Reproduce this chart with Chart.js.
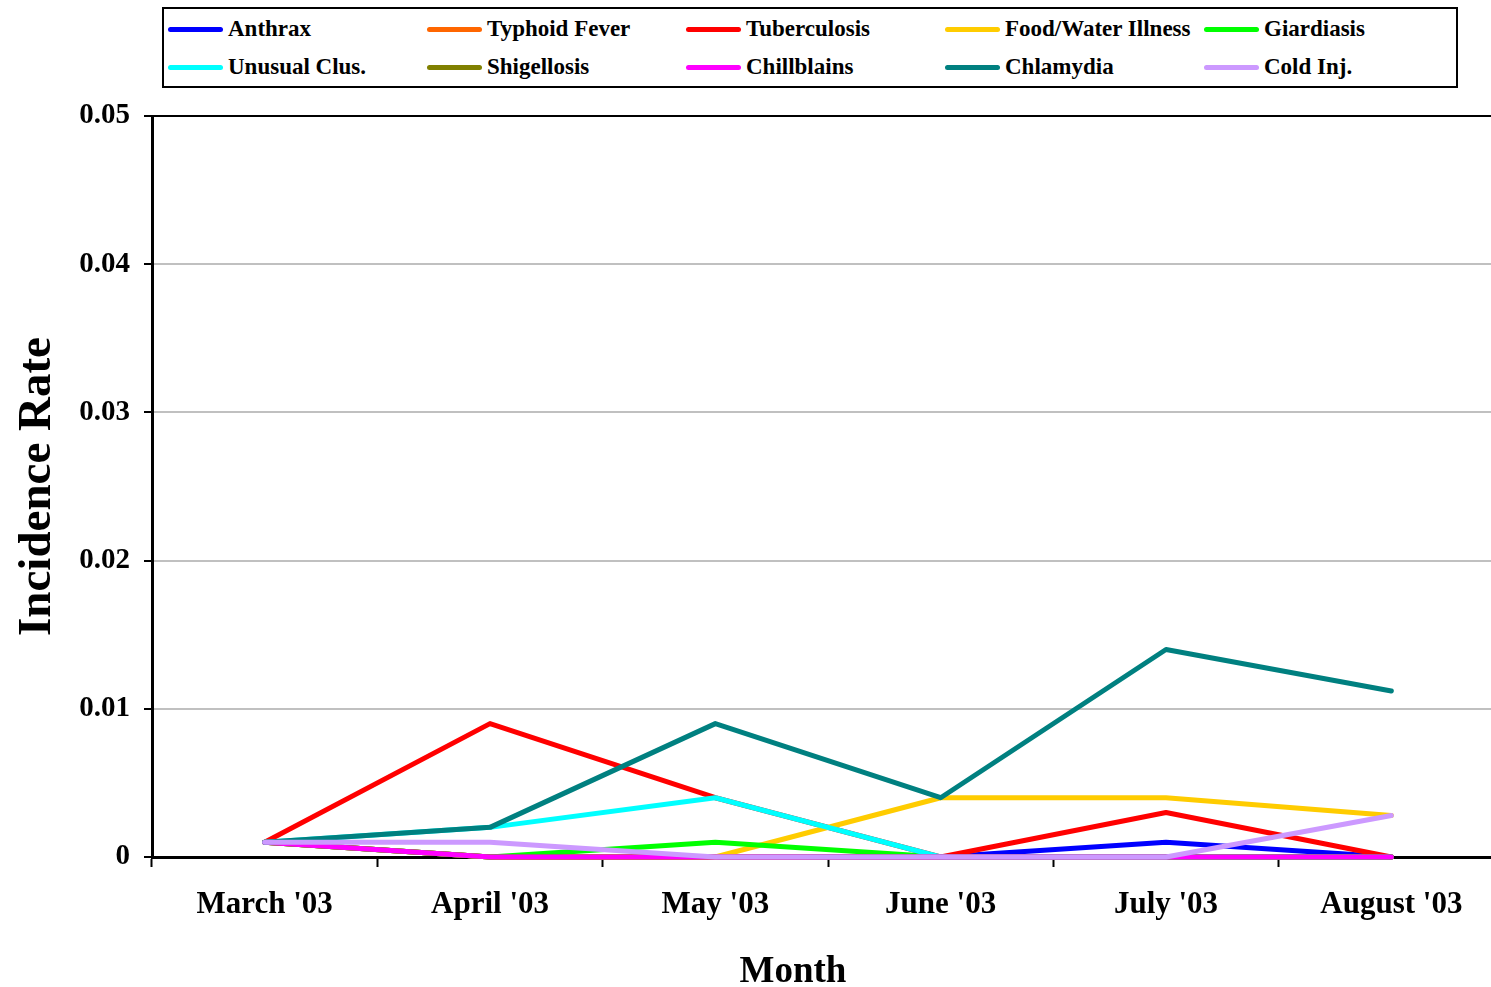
<!DOCTYPE html>
<html>
<head>
<meta charset="utf-8">
<script src="https://cdn.jsdelivr.net/npm/chart.js@4/dist/chart.umd.min.js"></script>
<style>
  html, body { margin: 0; background: #fff; overflow: hidden; }
  #wrap { position: relative; width: 1491px; height: 987px; overflow: hidden; }
  #legend {
    position: absolute; left: 162px; top: 7px; width: 1292px; height: 77px;
    border: 2px solid #000; background: #fff;
    font-family: "Liberation Serif", "Times New Roman", serif; font-weight: bold; font-size: 23px;
  }
  .item { position: absolute; display: flex; align-items: center; height: 26px; }
  .swatch { width: 55px; height: 5px; border-radius: 3px; margin-right: 5px; }
  #xtitle {
    position: absolute; left: 693px; width: 200px; top: 948px; text-align: center;
    font-family: "Liberation Serif", "Times New Roman", serif; font-weight: bold; font-size: 37px;
  }
</style>
</head>
<body>
<div id="wrap">
  <canvas id="chart" width="1506" height="987"></canvas>
  <div id="legend"></div>
  <div id="xtitle">Month</div>
</div>
<script>
// months on the x axis
const months = ["March '03", "April '03", "May '03", "June '03", "July '03", "August '03"];

// series names + colours (excel order)
const names = ["Anthrax", "Typhoid Fever", "Tuberculosis", "Food/Water Illness", "Giardiasis",
               "Unusual Clus.", "Shigellosis", "Chillblains", "Chlamydia", "Cold Inj."];
const colors = ["#0000FF", "#FF6600", "#FF0000", "#FFCC00", "#00FF00",
                "#00FFFF", "#808000", "#FF00FF", "#008080", "#CC99FF"];

// incidence rates
const anthrax      = [0.001, 0,     0,     0,     0.001, 0];
const typhoid      = [0.001, 0,     0,     0,     0,     0];
const tuberculosis = [0.001, 0.009, 0.004, 0,     0.003, 0];
const foodWater    = [0.001, 0,     0,     0.004, 0.004, 0.0028];
const giardiasis   = [0.001, 0,     0.001, 0,     0,     0];
const unusualClus  = [0.001, 0.002, 0.004, 0,     0,     0];
const shigellosis  = [0.001, 0,     0,     0,     0,     0];
const chillblains  = [0.001, 0,     0,     0,     0,     0];
const chlamydia    = [0.001, 0.002, 0.009, 0.004, 0.014, 0.0112];
const coldInj      = [0.001, 0.001, 0,     0,     0,     0.0028];

const yTicks = [0, 0.01, 0.02, 0.03, 0.04, 0.05];

const seriesData = [anthrax, typhoid, tuberculosis, foodWater, giardiasis,
                    unusualClus, shigellosis, chillblains, chlamydia, coldInj];

const font = "'Liberation Serif', 'Times New Roman', serif";

// html legend, 5 columns x 2 rows like the excel one
const legend = document.getElementById('legend');
names.forEach((n, i) => {
  const el = document.createElement('div');
  el.className = 'item';
  el.style.left = (4 + (i % 5) * 259) + 'px';
  el.style.top = (i < 5 ? 7 : 45) + 'px';
  el.innerHTML = '<span class="swatch" style="background:' + colors[i] + '"></span>' + n;
  legend.appendChild(el);
});

// top border of the plot area
const topLine = {
  id: 'topLine',
  beforeDatasetsDraw(chart) {
    const a = chart.chartArea, c = chart.ctx;
    c.save();
    c.strokeStyle = '#000';
    c.lineWidth = 2;
    c.beginPath();
    c.moveTo(a.left, a.top);
    c.lineTo(a.right, a.top);
    c.stroke();
    c.restore();
  }
};

const chart = new Chart(document.getElementById('chart'), {
  type: 'line',
  data: {
    labels: months,
    datasets: seriesData.map((d, i) => ({
      label: names[i],
      data: d,
      borderColor: colors[i],
      backgroundColor: colors[i],
      borderWidth: 5,
      pointRadius: 0,
      tension: 0,
      borderCapStyle: 'round',
      borderJoinStyle: 'round',
      clip: false,
      order: seriesData.length - i
    }))
  },
  options: {
    responsive: false,
    animation: false,
    layout: { padding: { top: 116, right: 2, left: 10, bottom: 0 } },
    plugins: { legend: { display: false }, tooltip: { enabled: false } },
    scales: {
      x: {
        offset: true,
        grid: { offset: true, drawOnChartArea: false, tickLength: 10, tickColor: '#000', tickWidth: 2 },
        border: { color: '#000', width: 3 },
        ticks: { color: '#000', padding: 19, maxRotation: 0, font: { family: font, weight: 'bold', size: 31 } },
        afterFit(s) { s.height = 130; }
      },
      y: {
        min: 0, max: 0.05,
        afterBuildTicks(s) { s.ticks = yTicks.map(v => ({ value: v })); },
        grid: {
          color: c => c.tick && c.tick.value === 0.05 ? 'rgba(0,0,0,0)' : '#c0c0c0',
          lineWidth: 2, tickLength: 8, tickColor: '#000', tickWidth: 2
        },
        border: { color: '#000', width: 3 },
        ticks: { color: '#000', padding: 14, font: { family: font, weight: 'bold', size: 29 },
                 callback: v => String(v) },
        title: { display: true, text: 'Incidence Rate', color: '#000', padding: { top: 0, bottom: 4 },
                 font: { family: font, weight: 'bold', size: 47 } },
        afterFit(s) { s.width = 142; }
      }
    }
  },
  plugins: [topLine]
});
</script>
</body>
</html>
